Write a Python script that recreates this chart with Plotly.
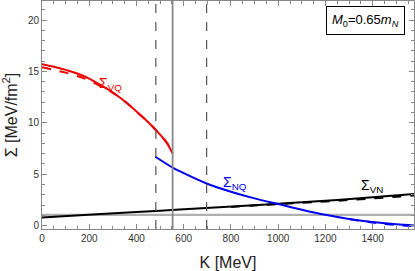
import plotly.graph_objects as go

# ---- data ----
K_vq = [0, 50, 100, 150, 200, 250, 300, 350, 400, 450, 482, 500, 530, 553]
S_vq = [15.7, 15.45, 15.15, 14.8, 14.3, 13.65, 12.95, 12.1, 11.1, 10.05, 9.3, 8.85, 8.0, 7.0]
K_vq_d = [0, 50, 100, 150, 200, 250, 300, 350, 400, 450, 482, 500, 530, 553]
S_vq_d = [15.4, 15.15, 14.88, 14.55, 14.12, 13.55, 12.92, 12.1, 11.1, 10.05, 9.3, 8.85, 8.0, 7.0]

K_nq = [480, 553, 600, 697, 800, 900, 1000, 1100, 1200, 1300, 1400, 1500, 1575]
S_nq = [6.7, 5.65, 5.1, 4.1, 3.3, 2.65, 2.1, 1.55, 1.05, 0.65, 0.35, 0.12, 0.02]
K_nq_d = [1300, 1400, 1500, 1575]
S_nq_d = [0.63, 0.3, 0.06, -0.05]

K_vn = [0, 250, 500, 750, 1000, 1250, 1575]
S_vn = [0.8, 1.12, 1.45, 1.78, 2.12, 2.5, 3.08]
K_vn_d = [800, 1000, 1250, 1575]
S_vn_d = [1.82, 2.1, 2.42, 2.92]

K_flat = [0, 1575]
S_flat = [1.05, 1.05]

K_dash_lines = [482, 697]
K_solid_line = [553]

x_range = [0, 1575]
y_range = [-0.33, 21.85]

fig = go.Figure()

# horizontal gray line
fig.add_trace(go.Scatter(x=K_flat, y=S_flat, mode="lines",
                         line=dict(color="#b0b0b0", width=2.2)))

# vertical lines
for k in K_dash_lines:
    fig.add_shape(type="line", x0=k, x1=k, y0=y_range[0], y1=y_range[1],
                  line=dict(color="#555555", width=1.2, dash="dash"))
for k in K_solid_line:
    fig.add_shape(type="line", x0=k, x1=k, y0=y_range[0], y1=y_range[1],
                  line=dict(color="#888888", width=1.8))

# black
fig.add_trace(go.Scatter(x=K_vn, y=S_vn, mode="lines", line_shape="spline",
                         line=dict(color="black", width=2)))
fig.add_trace(go.Scatter(x=K_vn_d, y=S_vn_d, mode="lines", line_shape="spline",
                         line=dict(color="black", width=2, dash="dash")))
# blue
fig.add_trace(go.Scatter(x=K_nq, y=S_nq, mode="lines", line_shape="spline",
                         line=dict(color="#0000ee", width=2)))
fig.add_trace(go.Scatter(x=K_nq_d, y=S_nq_d, mode="lines", line_shape="spline",
                         line=dict(color="#0000ee", width=2, dash="dash")))
# red
fig.add_trace(go.Scatter(x=K_vq_d, y=S_vq_d, mode="lines", line_shape="spline",
                         line=dict(color="#ee0000", width=2, dash="dash")))
fig.add_trace(go.Scatter(x=K_vq, y=S_vq, mode="lines", line_shape="spline",
                         line=dict(color="#ee0000", width=2)))

lab_font = dict(family="Liberation Sans, Arial", size=14)
fig.add_annotation(x=292, y=13.8, text="Σ<sub>VQ</sub>", showarrow=False,
                   font=dict(lab_font, color="#ee0000"))
fig.add_annotation(x=817, y=4.1, text="Σ<sub>NQ</sub>", showarrow=False,
                   font=dict(lab_font, color="#0000ee"))
fig.add_annotation(x=1398, y=3.85, text="Σ<sub>VN</sub>", showarrow=False,
                   font=dict(lab_font, color="black"))

fig.add_annotation(xref="paper", yref="paper", x=0.869, y=0.914,
                   xanchor="center", yanchor="middle",
                   text="<i>M</i><sub>0</sub>=0.65<i>m</i><sub><i>N</i></sub>",
                   showarrow=False, bordercolor="black", borderwidth=1,
                   borderpad=5, bgcolor="white",
                   font=dict(family="Liberation Sans, Arial", size=13, color="black"))

axis_common = dict(showline=True, linecolor="#888888", linewidth=1,
                   mirror="allticks", ticks="inside", tickcolor="#888888",
                   ticklen=5, tickwidth=1, showgrid=False, zeroline=False,
                   tickfont=dict(family="Liberation Sans, Arial", size=10, color="#333333"))

fig.update_xaxes(range=x_range, dtick=200, tick0=0,
                 minor=dict(dtick=50, ticks="inside", ticklen=3, tickcolor="#888888"),
                 title=dict(text="K [MeV]", font=dict(family="Liberation Sans, Arial", size=16, color="#222222"), standoff=13),
                 **axis_common)
fig.update_yaxes(range=y_range, dtick=5, tick0=0,
                 minor=dict(dtick=1, ticks="inside", ticklen=3, tickcolor="#888888"),
                 title=dict(text="Σ [MeV/fm<sup>2</sup>]", font=dict(family="Liberation Sans, Arial", size=16, color="#222222"), standoff=6),
                 **axis_common)

fig.update_layout(width=415, height=271, margin=dict(l=42, r=1, t=1, b=42),
                  showlegend=False, plot_bgcolor="white", paper_bgcolor="white")

fig.write_html("out.html", config={"displayModeBar": False},
               post_script="document.body.style.margin='0';document.body.style.overflow='hidden';")
